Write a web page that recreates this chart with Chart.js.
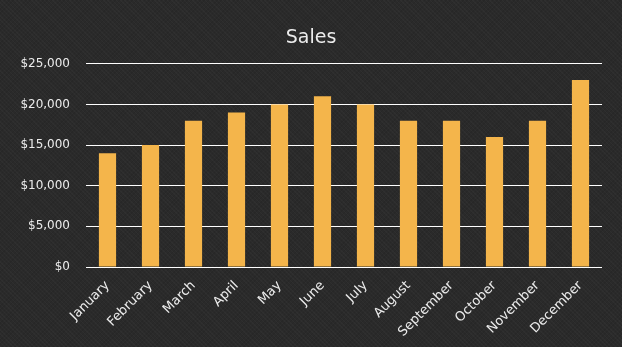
<!DOCTYPE html>
<html lang="en">
<head>
    <meta charset="UTF-8">
    <title>Sales</title>
    <script src="https://cdn.jsdelivr.net/npm/chart.js"></script>
    <style>
        html, body {
            margin: 0;
            padding: 0;
            width: 622px;
            height: 347px;
            overflow: hidden;
        }

        body {
            background-color: #2a2a2a;
            background-image:
                repeating-linear-gradient(45deg, rgba(255,255,255,0.025) 0px, rgba(255,255,255,0.025) 1px, transparent 1px, transparent 3px),
                repeating-linear-gradient(-45deg, rgba(0,0,0,0.08) 0px, rgba(0,0,0,0.08) 1px, transparent 1px, transparent 3px);
        }

        .chart-wrapper {
            width: 622px;
            height: 347px;
        }
    </style>
</head>
<body>
    <div class="chart-wrapper">
        <canvas id="salesChart"></canvas>
    </div>

    <script>
        const months = ['January', 'February', 'March', 'April', 'May', 'June',
                        'July', 'August', 'September', 'October', 'November', 'December'];
        const sales = [14000, 15000, 18000, 19000, 20000, 21000,
                       20000, 18000, 18000, 16000, 18000, 23000];
        const yTicks = [0, 5000, 10000, 15000, 20000, 25000];

        const textColor = '#ececec';
        const barColor = '#f4b54b';
        const fontFamily = "'DejaVu Sans', sans-serif";

        const salesChart = new Chart(document.getElementById('salesChart'), {
            type: 'bar',
            data: {
                labels: months,
                datasets: [{
                    label: 'Sales',
                    data: sales,
                    backgroundColor: barColor,
                    borderWidth: 0,
                    categoryPercentage: 1,
                    barPercentage: 0.4
                }]
            },
            options: {
                responsive: true,
                maintainAspectRatio: false,
                animation: false,
                layout: {
                    padding: 0
                },
                plugins: {
                    legend: { display: false },
                    tooltip: { enabled: false },
                    title: {
                        display: true,
                        text: 'Sales',
                        color: textColor,
                        font: { family: fontFamily, size: 19, weight: 'normal', lineHeight: 1.2 },
                        padding: { top: 27, bottom: 14 }
                    }
                },
                scales: {
                    x: {
                        grid: { display: false },
                        border: { display: false },
                        ticks: {
                            color: textColor,
                            font: { family: fontFamily, size: 13 },
                            minRotation: 45,
                            maxRotation: 45,
                            autoSkip: false,
                            padding: 3
                        },
                        afterFit: (scale) => { scale.height = 80; }
                    },
                    y: {
                        min: yTicks[0],
                        max: yTicks[yTicks.length - 1],
                        afterBuildTicks: (scale) => {
                            scale.ticks = yTicks.map(v => ({ value: v }));
                        },
                        grid: {
                            color: '#ffffff',
                            lineWidth: 1,
                            drawTicks: false
                        },
                        border: { display: false },
                        ticks: {
                            color: textColor,
                            font: { family: fontFamily, size: 12 },
                            padding: 16,
                            callback: (v) => '$' + v.toLocaleString('en-US')
                        },
                        afterFit: (scale) => { scale.width = 86; }
                    },
                    // empty right-hand gutter so the title stays centred on the page
                    gutter: {
                        type: 'linear',
                        position: 'right',
                        grid: { display: false },
                        border: { display: false },
                        ticks: { display: false },
                        afterFit: (scale) => { scale.width = 20; }
                    }
                }
            }
        });
    </script>
</body>
</html>
